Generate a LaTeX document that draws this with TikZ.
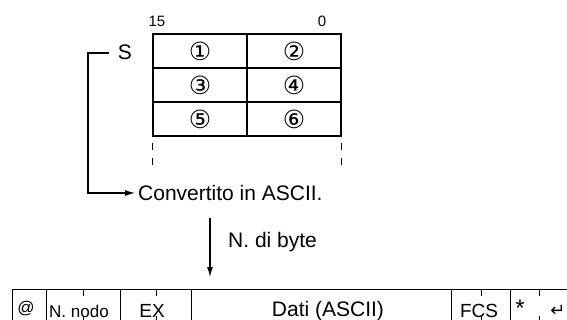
\documentclass[tikz,border=0pt]{standalone}
\usepackage{fontspec}
\setmainfont{Liberation Sans}
\newfontfamily\symfont{DejaVu Sans}
\usetikzlibrary{arrows.meta}
\newcommand{\fs}[1]{\fontsize{#1}{#1}\selectfont}

\begin{document}
\begin{tikzpicture}[
  x=1pt, y=-1pt,
  cell/.style={draw, line width=1.1pt, minimum width=94pt, minimum height=34pt,
               inner sep=0pt, font=\symfont\fs{25}},
  fld/.style={draw, line width=1.1pt, anchor=north west, minimum height=33pt, inner sep=0pt},
  lbl/.style={inner sep=0pt, font=\fs{21}},
  arr/.style={-{Latex[length=10pt,width=6pt]}, line width=1.1pt},
  tick/.style={line width=0.9pt}
]
  \useasboundingbox (0,0) rectangle (567,320);
  \clip (0,0) rectangle (567,320);

  % word S, bits 15..0
  \node[cell] (c1) at (200,51) {①};
  \node[cell] (c2) at (294,51) {②};
  \node[cell] (c3) at (200,85) {③};
  \node[cell] (c4) at (294,85) {④};
  \node[cell] (c5) at (200,119) {⑤};
  \node[cell] (c6) at (294,119) {⑥};
  \draw[tick, dash pattern=on 7pt off 8pt] ([yshift=-6pt]c5.south west) -- ++(0,23);
  \draw[tick, dash pattern=on 7pt off 8pt] ([yshift=-6pt]c6.south east) -- ++(0,23);

  \node[inner sep=0pt, font=\fs{15}] (msb) at (157,21) {15};
  \node[inner sep=0pt, font=\fs{15}] (lsb) at (322,21) {0};
  \node[lbl] (S) at (125,52) {S};

  \coordinate (brk) at (109,53);
  \coordinate (elbow) at (88,193);
  \node[lbl, anchor=west] (conv) at (138,193) {Convertito in ASCII.};
  \draw[arr] (brk) -| (elbow) -- ([xshift=-3pt]conv.west);

  \coordinate (nb) at (210,218);
  \coordinate (nbend) at (210,277);
  \draw[arr] (nb) -- (nbend);
  \node[lbl, anchor=west] (bytes) at (228,242) {N. di byte};

  % frame
  \node[fld, minimum width=34pt] (f1) at (12,289) {};
  \node[fld, minimum width=74pt] (f2) at (46,289) {};
  \node[fld, minimum width=71pt] (f3) at (120,289) {};
  \node[fld, minimum width=260pt] (f4) at (191,289) {};
  \node[fld, minimum width=59pt] (f5) at (451,289) {};
  \node[fld, minimum width=58pt] (f6) at (510,289) {};
  \foreach \f in {f2,f3,f5,f6} {
    \draw[tick] (\f.north) -- ++(0,7);
    \draw[tick] (\f.south) -- ++(0,-7);
  }

  \node[inner sep=0pt, font=\fs{17}] (at) at (26,309) {@};
  \node[inner sep=0pt, anchor=west, font=\fs{17}] (nodo) at (49,311) {N. nodo};
  \node[inner sep=0pt, font=\fs{19}] (ex) at (152,311) {EX};
  \node[lbl] (dati) at (328,311) {Dati (ASCII)};
  \node[inner sep=0pt, font=\fs{19}] (fcs) at (479,311) {FCS};
  \node[inner sep=0pt, font=\fs{24}] (star) at (520,308) {*};
  \node[inner sep=0pt, font=\symfont\fs{18}] (cr) at (558,311) {↵};
\end{tikzpicture}
\end{document}
